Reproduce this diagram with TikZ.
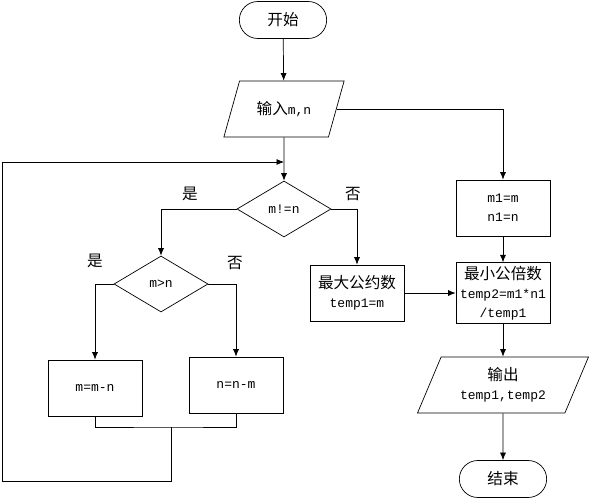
\documentclass[tikz,border=0pt]{standalone}
\usepackage{fontspec}
\setmainfont{Liberation Mono}
\newfontfamily\cjk[Scale=1.2]{Noto Sans CJK SC}
\usetikzlibrary{shapes,arrows.meta,positioning}

\begin{document}
\begin{tikzpicture}[
		x=1pt,y=-1pt,
		line width=0.7pt,
		font=\fontsize{13}{19}\selectfont,
		>={Latex[length=7.5pt,width=6pt]},
		term/.style={
		  draw,
		  rounded rectangle,
		  minimum width=94pt,
		  minimum height=37pt
		},
		io/.style={
		  draw,
		  trapezium,
		  trapezium left angle=64,
		  trapezium right angle=116,
		  trapezium stretches=true,
		  minimum width=121pt,
		  minimum height=56pt,
		  align=center
		},
		proc/.style={
		  draw,
		  rectangle,
		  minimum width=94pt,
		  minimum height=56pt,
		  align=center
		},
		deci/.style={
		  draw,
		  diamond,
		  minimum width=94pt,
		  minimum height=56pt,
		  inner sep=1pt
		}
		]
		\useasboundingbox (0,0) rectangle (590,500);

		% main column
		\node[term] at (283,20)
		  (start) {\cjk 开始};
		\node[io] at (284,109)
		  (input) {{\cjk 输入}m,n};
		\node[deci] at (284,209)
		  (neq) {m!=n};
		\node[deci] at (161,284)
		  (gt) {m>n};
		\node[proc] at (95,388)
		  (mmn) {m=m-n};
		\node[proc] at (236,385)
		  (nnm) {n=n-m};
		\node[proc] at (357,293)
		  (gcd) {{\cjk 最大公约数}\\temp1=m};

		% right column
		\node[proc] at (503,208)
		  (m1) {m1=m\\n1=n};
		\node[proc] at (503,293)
		  (lcm) {{\cjk 最小公倍数}\\temp2=m1*n1\\/temp1};
		\node[io,minimum width=171pt,trapezium left angle=67,trapezium right angle=113] at (503,385)
		  (out) {{\cjk 输出}\\temp1,temp2};
		\node[term] at (503,479)
		  (end) {\cjk 结束};

		% branch labels
		\node at (190,194) (yes1) {\cjk 是};
		\node at (353,194) (no1) {\cjk 否};
		\node at (95,261) (yes2) {\cjk 是};
		\node at (235,263) (no2) {\cjk 否};

		\coordinate (merge) at (171,427);
		\coordinate (corner) at (2,481);
		\coordinate (back) at (284,162);

		\draw[->] (start) -- (input);
		\draw[->] (input) -- (neq);
		\draw[->] (input.east) -| (m1);
		\draw[->] (neq.west) -| (gt);
		\draw[->] (neq.east) -| (gcd);
		\draw[->] (gt.west) -| (mmn);
		\draw[->] (gt.east) -| (nnm);
		\draw (mmn.south) |- (merge) -| (nnm.south);
		\draw[->] (merge) |- (corner) |- (back);
		\draw[->] (gcd) -- (lcm);
		\draw[->] (m1) -- (lcm);
		\draw[->] (lcm) -- (out);
		\draw[->] (out) -- (end);
	\end{tikzpicture}
\end{document}
